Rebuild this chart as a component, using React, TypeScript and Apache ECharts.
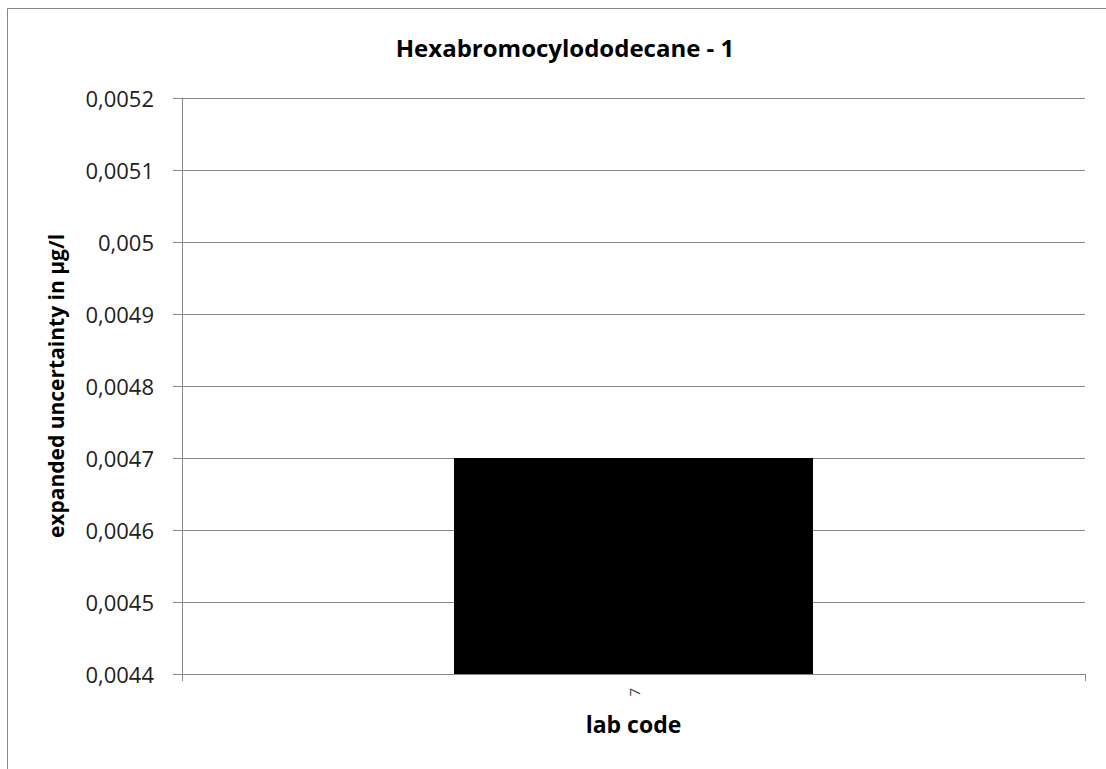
import React, { useEffect, useRef } from "react";
import * as echarts from "echarts";

const categories = ["7"];
const values = [0.0047];
const yMin = 0.0044;
const yMax = 0.0052;
const yInterval = 0.0001;
const titleText = "Hexabromocylododecane - 1";
const xName = "lab code";
const yName = "expanded uncertainty in µg/l";

export default function App() {
  const ref = useRef<HTMLDivElement>(null);
  useEffect(() => {
    if (!ref.current) return;
    const chart = echarts.init(ref.current, null, { renderer: "svg" });
    const font = "'Open Sans', 'Liberation Sans', sans-serif";
    chart.setOption({
      animation: false,
      backgroundColor: "#ffffff",
      textStyle: { fontFamily: font },
      title: {
        text: titleText,
        left: 560,
        top: 30,
        textAlign: "center",
        textStyle: { fontSize: 24, fontWeight: "bold", color: "#000", fontFamily: font },
      },
      graphic: [
        {
          type: "line",
          shape: { x1: 7.5, y1: 8.5, x2: 1200, y2: 8.5 },
          style: { stroke: "#888888", lineWidth: 1 },
          silent: true,
        },
        {
          type: "line",
          shape: { x1: 7.5, y1: 8.5, x2: 7.5, y2: 900 },
          style: { stroke: "#888888", lineWidth: 1 },
          silent: true,
        },
      ],
      grid: { left: 182, right: 21, top: 98, bottom: 95 },
      xAxis: {
        type: "category",
        data: categories,
        name: xName,
        nameLocation: "middle",
        nameGap: 38,
        nameTextStyle: { fontSize: 23, fontWeight: "bold", color: "#000", fontFamily: font },
        axisLine: { lineStyle: { color: "#888888", width: 1 } },
        axisTick: { show: true, length: 7, lineStyle: { color: "#888888" } },
        axisLabel: { rotate: 90, fontSize: 15, color: "#444", margin: 14 },
      },
      yAxis: {
        type: "value",
        min: yMin,
        max: yMax,
        interval: yInterval,
        name: yName,
        nameLocation: "middle",
        nameGap: 116,
        nameTextStyle: { fontSize: 21, fontWeight: "bold", color: "#000", fontFamily: font },
        axisLine: { show: true, lineStyle: { color: "#888888", width: 1 } },
        axisTick: { show: true, length: 9, lineStyle: { color: "#888888" } },
        splitLine: { lineStyle: { color: "#888888", width: 1 } },
        axisLabel: {
          fontSize: 22,
          color: "#222",
          margin: 28,
          formatter: (v: number) =>
            v.toFixed(4).replace(/0+$/, "").replace(/\.$/, "").replace(".", ","),
        },
      },
      series: [
        {
          type: "bar",
          data: values,
          barWidth: 359,
          itemStyle: { color: "#000000" },
        },
      ],
    });
    return () => chart.dispose();
  }, []);
  return (
    <div
      ref={ref}
      style={{ position: "fixed", left: 0, top: 0, width: 1106, height: 769, overflow: "hidden" }}
    />
  );
}
